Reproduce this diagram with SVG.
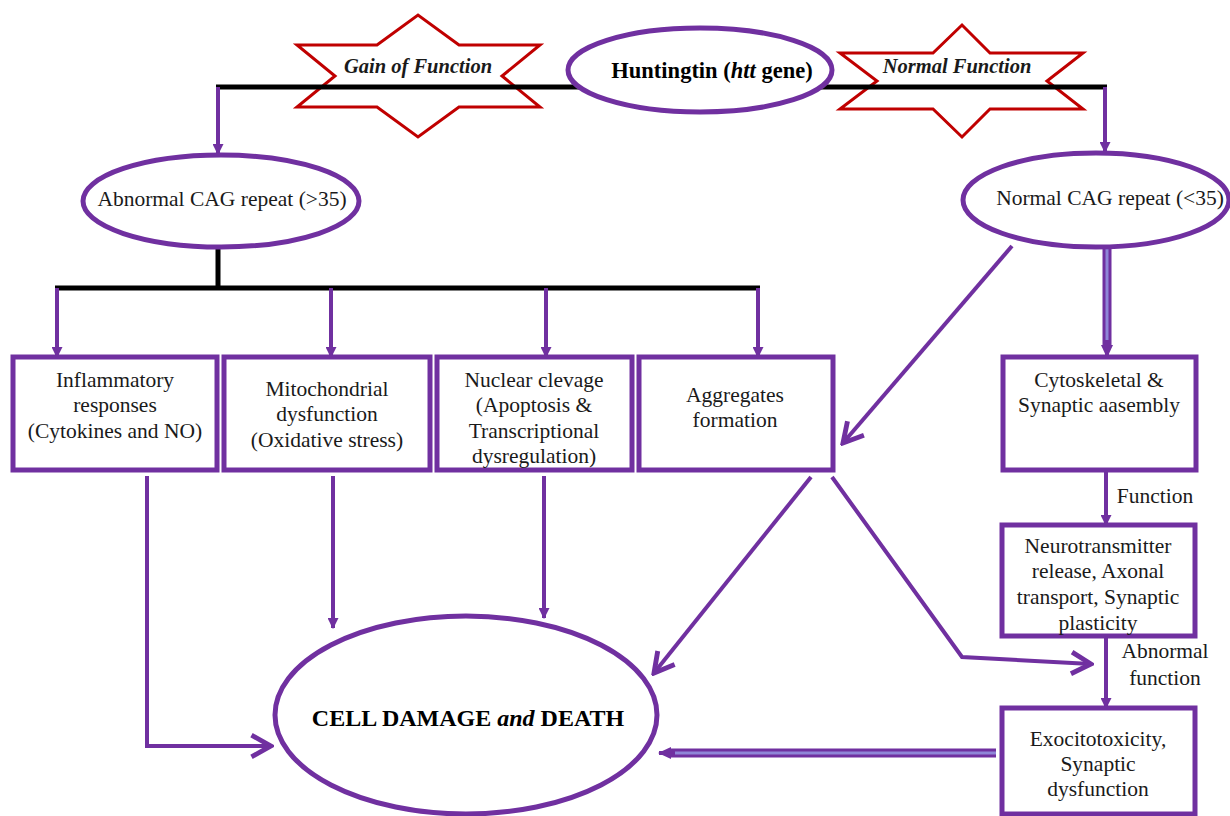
<svg xmlns="http://www.w3.org/2000/svg" width="1230" height="816" viewBox="0 0 1230 816" font-family="'Liberation Serif', 'DejaVu Serif', serif">
<style>
.bg{fill:#ffffff}
.star{fill:none;stroke:#c00000;stroke-width:3;stroke-linejoin:miter}
.ell{fill:#ffffff;stroke:#7030a0;stroke-width:5}
.box{fill:#ffffff;stroke:#7030a0;stroke-width:5}
.blk{stroke:#000000;stroke-width:5;fill:none}
.pl{stroke:#7030a0;stroke-width:4;fill:none}
.dbo{stroke:#7030a0;stroke-width:9;fill:none}
.dbi{stroke:#8f86d8;stroke-width:3;fill:none}
text{font-family:'Liberation Serif','DejaVu Serif',serif}
.t{font-size:21.5px;fill:#1a1a1a;text-anchor:middle}
.h{font-weight:bold;fill:#000000;text-anchor:middle}
.st{font-weight:bold;font-style:italic;font-size:20.5px;fill:#1a1a1a;text-anchor:middle}
</style>
<defs>
<marker id="tri" markerUnits="userSpaceOnUse" viewBox="0 0 10 10" markerWidth="11" markerHeight="11" refX="9" refY="5" orient="auto">
<path d="M0,0 L10,5 L0,10 z" fill="#7030a0"/>
</marker>
<marker id="chev" markerUnits="userSpaceOnUse" viewBox="0 0 24 24" markerWidth="26" markerHeight="26" refX="21" refY="12" orient="auto">
<path d="M3,2 L21,12 L3,22" fill="none" stroke="#7030a0" stroke-width="4.5" stroke-linejoin="miter"/>
</marker>
<marker id="dtri" markerUnits="userSpaceOnUse" viewBox="0 0 14 14" markerWidth="14" markerHeight="14" refX="12" refY="7" orient="auto">
<path d="M0,1 L13,7 L0,13 z" fill="#7030a0"/>
</marker>
</defs>
<rect class="bg" x="0" y="0" width="1230" height="816"/>

<g id="star-gain">
<polygon class="star" points="297,45 377,45 418,15 459,45 540,45 502,76 540,107 459,107 418,137 377,107 297,107 335,76"/>
<text class="st" x="418" y="73" font-family="Liberation Serif, serif">Gain of Function</text>
</g>
<g id="star-normal">
<polygon class="star" points="840,53 933,53 962,25 990,53 1083,53 1047,81 1083,109 990,109 962,137 933,109 840,109 877,81"/>
<text class="st" x="957" y="73" font-family="Liberation Serif, serif">Normal Function</text>
</g>

<g id="connectors">
<path class="blk" d="M216,87 H600"/>
<path class="blk" d="M800,87 H1107"/>
<path class="pl" d="M218,87 V154" marker-end="url(#tri)"/>
<path class="pl" d="M1105,87 V152" marker-end="url(#tri)"/>
<path class="blk" d="M218,240 V288"/>
<path class="blk" d="M55,288 H760"/>
<path class="pl" d="M57,288 V357" marker-end="url(#tri)"/>
<path class="pl" d="M331,288 V357" marker-end="url(#tri)"/>
<path class="pl" d="M546,288 V357" marker-end="url(#tri)"/>
<path class="pl" d="M758,288 V357" marker-end="url(#tri)"/>
<path class="pl" d="M147,476 V746 H271" marker-end="url(#chev)"/>
<path class="pl" d="M333,476 V628" marker-end="url(#tri)"/>
<path class="pl" d="M544,476 V618" marker-end="url(#tri)"/>
<path class="pl" d="M811,477 L654,673" marker-end="url(#chev)"/>
<path class="pl" d="M832,477 L962,657 L1091,664" marker-end="url(#chev)"/>
<path class="pl" d="M1012,246 L843,443" marker-end="url(#chev)"/>
<path class="dbo" d="M1107,249 V346"/>
<path class="dbi" d="M1107,249 V346"/>
<path class="pl" d="M1107,340 V357" marker-end="url(#dtri)"/>
<path class="pl" d="M1106,472 V525" marker-end="url(#tri)"/>
<path class="pl" d="M1106,638 V708" marker-end="url(#tri)"/>
<path class="dbo" d="M996,753 H670"/>
<path class="dbi" d="M996,753 H670"/>
<path class="pl" d="M675,753 H659" marker-end="url(#dtri)"/>
<text class="t" x="1155" y="503" font-family="Liberation Serif, serif">Function</text>
<text class="t" x="1165" y="658" font-family="Liberation Serif, serif">Abnormal</text>
<text class="t" x="1165" y="685" font-family="Liberation Serif, serif">function</text>
</g>

<g id="huntingtin">
<ellipse class="ell" cx="700" cy="70" rx="132" ry="42"/>
<text class="h" x="712" y="78" font-size="22.5" font-family="Liberation Serif, serif">Huntingtin (<tspan font-style="italic">htt</tspan> gene)</text>
</g>
<g id="abnormal-cag">
<ellipse class="ell" cx="221" cy="201" rx="138" ry="46"/>
<text class="t" x="222" y="206" font-family="Liberation Serif, serif">Abnormal CAG repeat (&gt;35)</text>
</g>
<g id="normal-cag">
<ellipse class="ell" cx="1096" cy="200" rx="133" ry="47"/>
<text class="t" x="1110" y="205" font-family="Liberation Serif, serif">Normal CAG repeat (&lt;35)</text>
</g>
<g id="inflammatory" font-family="Liberation Serif, serif">
<rect class="box" x="13" y="357" width="204" height="113"/>
<text class="t" x="115" y="387">Inflammatory</text>
<text class="t" x="115" y="412">responses</text>
<text class="t" x="115" y="438">(Cytokines and NO)</text>
</g>
<g id="mitochondrial" font-family="Liberation Serif, serif">
<rect class="box" x="224" y="357" width="206" height="113"/>
<text class="t" x="327" y="396">Mitochondrial</text>
<text class="t" x="327" y="421">dysfunction</text>
<text class="t" x="327" y="447">(Oxidative stress)</text>
</g>
<g id="nuclear" font-family="Liberation Serif, serif">
<rect class="box" x="437" y="357" width="195" height="113"/>
<text class="t" x="534" y="387">Nuclear clevage</text>
<text class="t" x="534" y="412">(Apoptosis &amp;</text>
<text class="t" x="534" y="438">Transcriptional</text>
<text class="t" x="534" y="463">dysregulation)</text>
</g>
<g id="aggregates" font-family="Liberation Serif, serif">
<rect class="box" x="639" y="357" width="194" height="113"/>
<text class="t" x="735" y="402">Aggregates</text>
<text class="t" x="735" y="427">formation</text>
</g>
<g id="cytoskeletal" font-family="Liberation Serif, serif">
<rect class="box" x="1003" y="357" width="193" height="113"/>
<text class="t" x="1099" y="387">Cytoskeletal &amp;</text>
<text class="t" x="1099" y="412">Synaptic aasembly</text>
</g>
<g id="neurotransmitter" font-family="Liberation Serif, serif">
<rect class="box" x="1002" y="525" width="193" height="111"/>
<text class="t" x="1098" y="553">Neurotransmitter</text>
<text class="t" x="1098" y="578">release, Axonal</text>
<text class="t" x="1098" y="604">transport, Synaptic</text>
<text class="t" x="1098" y="630">plasticity</text>
</g>
<g id="exocitotoxicity" font-family="Liberation Serif, serif">
<rect class="box" x="1002" y="708" width="193" height="106"/>
<text class="t" x="1098" y="746">Exocitotoxicity,</text>
<text class="t" x="1098" y="771">Synaptic</text>
<text class="t" x="1098" y="796">dysfunction</text>
</g>
<g id="cell-damage">
<ellipse class="ell" cx="466" cy="715" rx="191" ry="99"/>
<text class="h" x="468" y="726" font-size="24" font-family="Liberation Serif, serif">CELL DAMAGE <tspan font-style="italic">and</tspan> DEATH</text>
</g>
</svg>
